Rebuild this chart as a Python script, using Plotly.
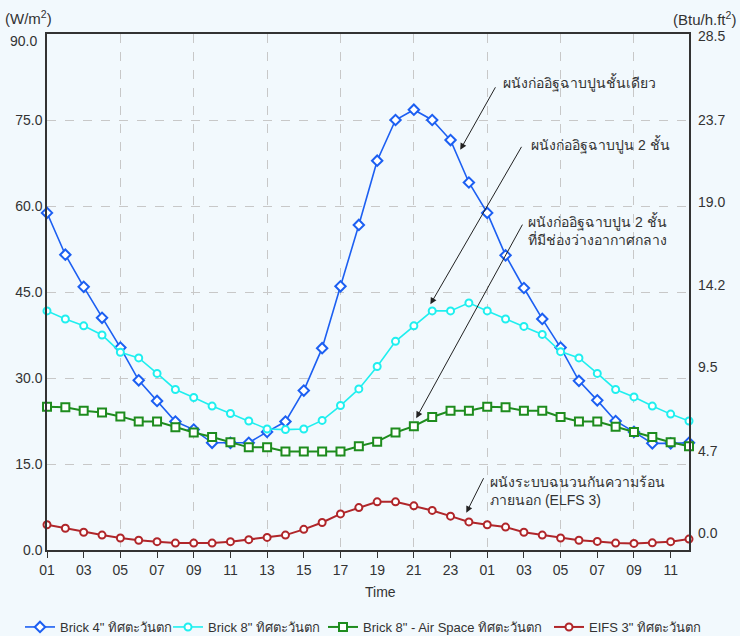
import plotly.graph_objects as go

# ---------------- data ----------------
hours = [f"{h:02d}" for h in range(1, 25)] + [f"{h:02d}" for h in range(1, 13)]
x_idx = list(range(len(hours)))

brick4 = [58.8, 51.5, 45.9, 40.5, 35.3, 29.6, 26.0, 22.4, 21.0, 18.7, 18.7, 18.7,
          20.6, 22.4, 27.8, 35.2, 46.0, 56.7, 67.9, 75.0, 76.8, 75.0, 71.5, 64.1,
          58.8, 51.4, 45.7, 40.3, 35.3, 29.5, 26.1, 22.5, 20.6, 18.6, 18.6, 18.7]
brick8 = [41.7, 40.3, 39.1, 37.5, 34.5, 33.5, 30.8, 28.0, 26.6, 25.1, 23.8, 22.5,
          21.1, 21.0, 21.1, 22.6, 25.2, 28.1, 32.0, 36.4, 39.1, 41.7, 41.7, 43.1,
          41.7, 40.3, 39.0, 37.6, 34.6, 33.5, 30.8, 28.0, 26.7, 25.1, 23.7, 22.5]
brick8_air = [25.0, 24.9, 24.3, 24.0, 23.3, 22.4, 22.4, 21.4, 20.5, 19.7, 18.8, 17.9,
              17.9, 17.2, 17.2, 17.2, 17.2, 18.1, 18.9, 20.5, 21.6, 23.2, 24.3, 24.3,
              25.0, 24.9, 24.3, 24.3, 23.2, 22.4, 22.4, 21.5, 20.6, 19.7, 18.8, 18.1]
eifs3 = [4.4, 3.8, 3.1, 2.6, 2.1, 1.7, 1.45, 1.2, 1.2, 1.2, 1.45, 1.8,
         2.2, 2.6, 3.6, 4.8, 6.3, 7.4, 8.4, 8.4, 7.7, 6.9, 5.9, 4.9,
         4.4, 4.0, 3.1, 2.6, 2.1, 1.7, 1.5, 1.2, 1.15, 1.25, 1.45, 1.9]

series_names = ['Brick 4" ทิศตะวันตก', 'Brick 8" ทิศตะวันตก',
                'Brick 8" - Air Space ทิศตะวันตก', 'EIFS 3" ทิศตะวันตก']

left_ticks = [0, 15, 30, 45, 60, 75, 90]
right_tick_vals = [0.0, 4.7, 9.5, 14.2, 19.0, 23.7, 28.5]
grid_x = [4, 8, 12, 16, 20, 24, 28, 32]

BG = "#F2F9FD"
FONT = "Liberation Sans, Arial, sans-serif"
TXT = "#333333"

styles = [
    dict(color="#1C5FF2", symbol="diamond", size=8, lw=1.6),
    dict(color="#1FEFEF", symbol="circle", size=7, lw=1.6),
    dict(color="#1E8C1E", symbol="square", size=8, lw=2.0),
    dict(color="#B0262A", symbol="circle", size=7, lw=2.0),
]
legend_ids = ["legend", "legend2", "legend3", "legend4"]
legend_x_px = [20, 168, 323, 549]

fig = go.Figure()
for name, vals, st, lg in zip(series_names, [brick4, brick8, brick8_air, eifs3], styles, legend_ids):
    fig.add_trace(go.Scatter(
        x=x_idx, y=vals, name=name, mode="lines+markers",
        line=dict(color=st["color"], width=st["lw"]),
        marker=dict(symbol=st["symbol"], size=st["size"], color="white",
                    line=dict(color=st["color"], width=2)),
        cliponaxis=False, legend=lg,
    ))

legend_common = dict(orientation="h", xref="container", yref="container",
                     y=1 - 627 / 636, xanchor="left", yanchor="middle",
                     font=dict(size=13, color=TXT), bgcolor="rgba(0,0,0,0)",
                     itemwidth=30)

# top left tick label is drawn slightly lower (as in the reference) via an annotation
left_ticktext = [f"{v:.1f}" for v in left_ticks]
top_label = left_ticktext[-1]
left_ticktext[-1] = ""

fig.update_layout(
    width=740, height=636,
    paper_bgcolor=BG, plot_bgcolor=BG,
    margin=dict(l=47, r=51, t=34, b=86),
    font=dict(family=FONT, size=14, color=TXT),
    showlegend=True,
    legend=dict(legend_common, x=legend_x_px[0] / 740),
    legend2=dict(legend_common, x=legend_x_px[1] / 740),
    legend3=dict(legend_common, x=legend_x_px[2] / 740),
    legend4=dict(legend_common, x=legend_x_px[3] / 740),
    xaxis=dict(range=[0, 35], tickmode="array", tickvals=x_idx[::2],
               ticktext=hours[::2], showgrid=False, zeroline=False,
               showline=True, linecolor="#333333", linewidth=1.5, mirror=True,
               ticks="outside", ticklen=6, tickcolor="#333333",
               tickfont=dict(size=14, color=TXT)),
    xaxis2=dict(range=[0, 35], overlaying="x", anchor="y", tickmode="array",
                tickvals=grid_x, showticklabels=False, ticks="",
                showgrid=True, gridcolor="#C8C8C8", griddash="dash", gridwidth=1,
                zeroline=False, showline=False),
    yaxis=dict(range=[0, 90], tickmode="array", tickvals=left_ticks,
               ticktext=left_ticktext,
               showgrid=True, gridcolor="#C8C8C8", griddash="dash", gridwidth=1,
               zeroline=False, showline=True, linecolor="#333333", linewidth=1.5,
               mirror=True, ticks="", tickfont=dict(size=14, color=TXT)),
    yaxis2=dict(range=[-0.99, 28.62], overlaying="y", side="right", anchor="x",
                tickmode="array", tickvals=right_tick_vals,
                ticktext=[f"{v:.1f}" for v in right_tick_vals],
                showgrid=False, zeroline=False, showline=False, ticks="",
                ticklabelstandoff=8, tickfont=dict(size=14, color=TXT)),
)

# invisible trace to activate secondary axes
fig.add_trace(go.Scatter(x=[0], y=[0], xaxis="x2", yaxis="y2", mode="markers",
                         marker=dict(opacity=0), showlegend=False, hoverinfo="skip"))

ann = []
ann.append(dict(text=top_label, xref="paper", yref="paper", x=-0.012, y=0.9874,
                xanchor="right", yanchor="middle", showarrow=False, font=dict(size=14, color=TXT)))
ann.append(dict(text="(W/m<sup>2</sup>)", xref="paper", yref="paper", x=-0.068, y=1.01,
                xanchor="left", yanchor="bottom", showarrow=False, font=dict(size=15, color=TXT)))
ann.append(dict(text="(Btu/h.ft<sup>2</sup>)", xref="paper", yref="paper", x=1.077, y=1.008,
                xanchor="right", yanchor="bottom", showarrow=False, font=dict(size=15, color=TXT)))
ann.append(dict(text="Time", xref="paper", yref="paper", x=0.52, y=-0.082,
                xanchor="center", yanchor="middle", showarrow=False, font=dict(size=14, color=TXT)))

labels = [
    ("ผนังก่ออิฐฉาบปูนชั้นเดียว", 0.707, 0.906),
    ("ผนังก่ออิฐฉาบปูน 2 ชั้น", 0.751, 0.786),
    ("ผนังก่ออิฐฉาบปูน 2 ชั้น<br>ที่มีช่องว่างอากาศกลาง", 0.746, 0.6205),
    ("ผนังระบบฉนวนกันความร้อน<br>ภายนอก (ELFS 3)", 0.687, 0.115),
]
for t, xx, yy in labels:
    ann.append(dict(text=t, xref="paper", yref="paper", x=xx, y=yy, xanchor="left",
                    yanchor="middle", align="left", showarrow=False,
                    font=dict(size=14, color=TXT)))

arrows = [  # head (data), tail offset (px)
    (22.53, 69.8, 36, -64),
    (20.9, 42.85, 92, -159),
    (20.13, 23.0, 107, -195),
    (22.86, 6.5, 18, -36),
]
for hx, hy, ax, ay in arrows:
    ann.append(dict(text="", x=hx, y=hy, xref="x", yref="y", ax=ax, ay=ay,
                    showarrow=True, arrowhead=2, arrowsize=1.3, arrowwidth=1,
                    arrowcolor="#222222"))

fig.update_layout(annotations=ann)
fig.write_html("out.html", config={"displayModeBar": False},
               post_script="document.body.style.margin='0';document.body.style.background='%s';" % BG)
